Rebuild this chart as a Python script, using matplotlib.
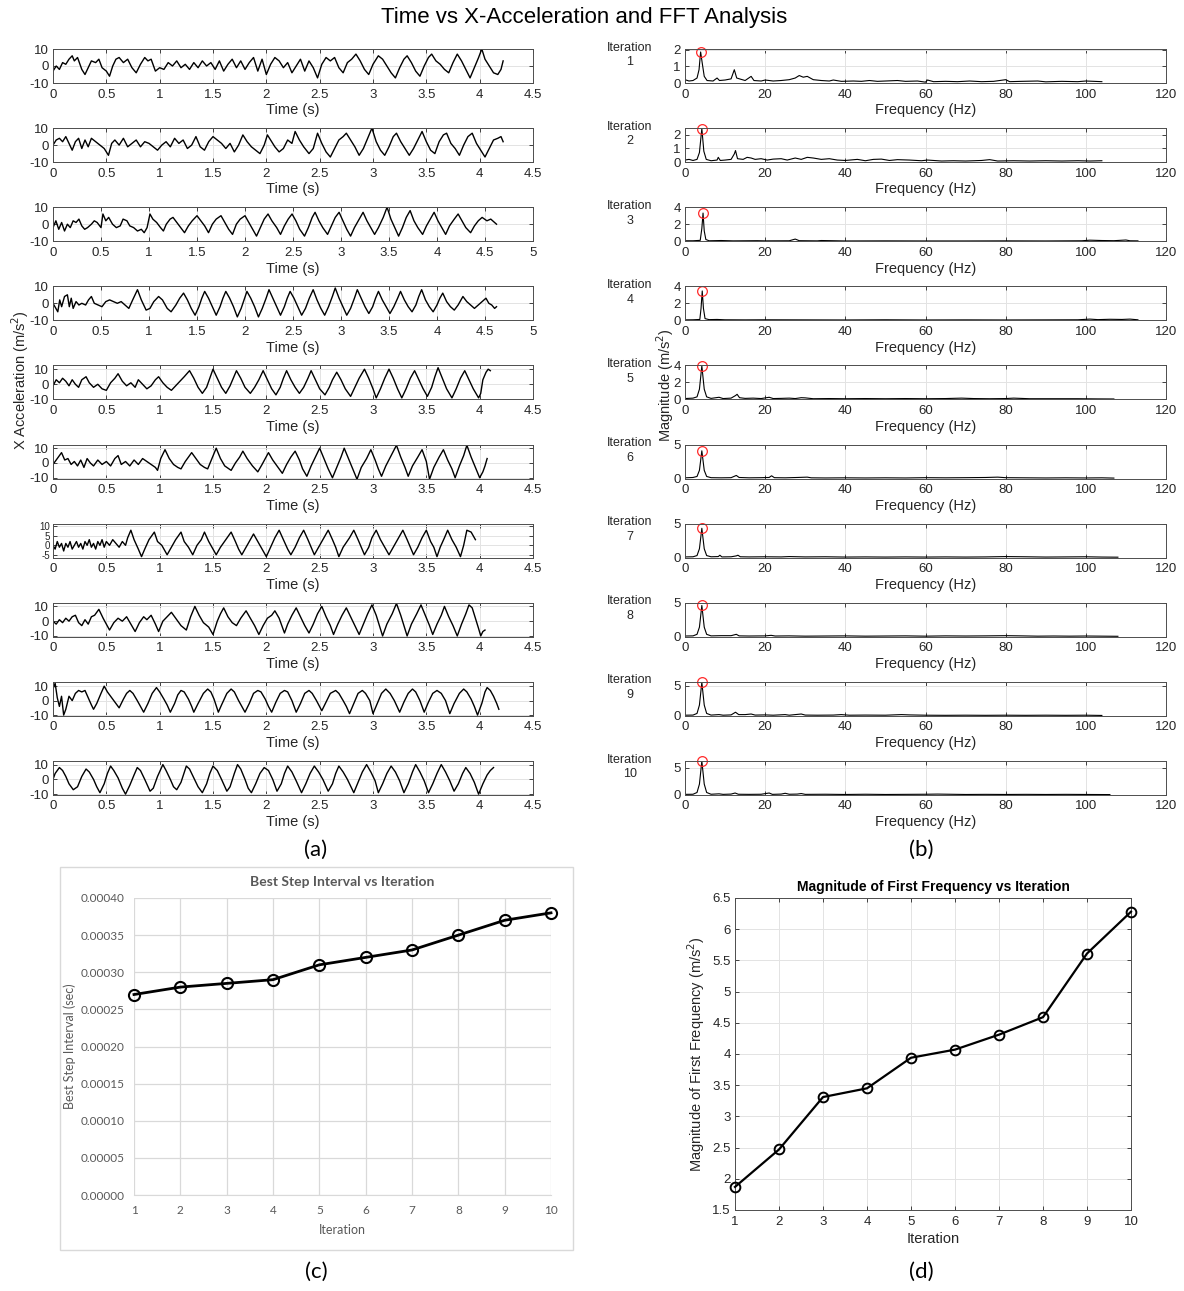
import matplotlib
matplotlib.use("Agg")
import matplotlib.pyplot as plt
from matplotlib.ticker import FuncFormatter
import numpy as np

# ---------------- DATA ----------------
iterations = [1, 2, 3, 4, 5, 6, 7, 8, 9, 10]
best_step_interval = [0.00027, 0.00028, 0.000285, 0.00029, 0.00031, 0.00032, 0.00033, 0.00035, 0.00037, 0.00038]
first_freq_magnitude = [1.87, 2.47, 3.31, 3.45, 3.94, 4.07, 4.31, 4.59, 5.61, 6.28]
peak_freq = [3.9, 4.2, 4.5, 4.3, 4.2, 4.2, 4.2, 4.2, 4.2, 4.2]

# time-domain x-acceleration (t [s], a [m/s^2])
acc_1 = [(0,-3),(0.03,0),(0.06,-2),(0.09,2),(0.12,1),(0.15,4),(0.18,6),(0.20,3),(0.23,5),(0.27,-2),(0.30,-5),(0.33,-1),(0.36,3),(0.40,2),(0.43,4),(0.46,-1),(0.50,-3),(0.53,-6),(0.56,0),(0.59,4),(0.62,5),(0.66,2),(0.70,4),(0.74,-1),(0.78,-4),(0.82,1),(0.86,5),(0.89,3),(0.92,4),(0.96,-3),(1.00,-1),(1.04,-2),(1.08,2),(1.12,0),(1.16,3),(1.20,-1),(1.24,1),(1.28,-2),(1.32,2),(1.36,-1),(1.40,3),(1.44,0),(1.48,2),(1.52,-2),(1.56,3),(1.60,-3),(1.64,1),(1.68,4),(1.72,-1),(1.76,3),(1.80,-2),(1.84,2),(1.88,5),(1.92,-3),(1.96,4),(2.00,-5),(2.04,1),(2.08,5),(2.12,3),(2.16,-1),(2.20,2),(2.24,-4),(2.28,0),(2.32,4),(2.36,-3),(2.40,3),(2.44,-1),(2.48,-7),(2.52,1),(2.56,5),(2.60,3),(2.64,5),(2.68,-1),(2.72,-4),(2.76,2),(2.80,4),(2.84,7),(2.88,3),(2.92,-2),(2.96,-5),(3.00,1),(3.05,6),(3.09,4),(3.13,0),(3.17,-4),(3.21,-7),(3.25,-1),(3.29,4),(3.32,6),(3.36,2),(3.40,-3),(3.44,-6),(3.48,0),(3.52,5),(3.55,7),(3.59,3),(3.63,1),(3.67,-2),(3.71,-4),(3.75,2),(3.79,7),(3.83,3),(3.87,-2),(3.91,-7),(3.95,-1),(3.99,5),(4.02,10),(4.05,4),(4.09,0),(4.13,-4),(4.17,-5),(4.20,-2),(4.22,3)]
acc_2 = [(0,0),(0.03,3),(0.06,4),(0.09,2),(0.12,5),(0.15,1),(0.18,-3),(0.21,2),(0.24,4),(0.27,-2),(0.30,3),(0.33,-1),(0.36,4),(0.40,2),(0.44,0),(0.48,-2),(0.52,-6),(0.55,1),(0.58,3),(0.62,0),(0.66,4),(0.70,-1),(0.74,1),(0.78,3),(0.82,-1),(0.86,2),(0.90,1),(0.94,-1),(0.98,-3),(1.02,0),(1.06,2),(1.10,-1),(1.14,4),(1.18,1),(1.22,3),(1.26,-2),(1.30,0),(1.34,5),(1.38,-1),(1.42,-3),(1.46,2),(1.50,5),(1.54,3),(1.58,1),(1.62,-2),(1.66,1),(1.70,-4),(1.74,0),(1.78,6),(1.82,2),(1.86,-1),(1.90,-3),(1.94,-5),(1.98,0),(2.01,6),(2.04,3),(2.08,-1),(2.12,-4),(2.16,-2),(2.20,3),(2.24,1),(2.27,8),(2.31,3),(2.35,-1),(2.40,-5),(2.44,-2),(2.48,7),(2.52,1),(2.56,-4),(2.60,-7),(2.64,-2),(2.68,3),(2.72,5),(2.75,7),(2.79,3),(2.83,-1),(2.87,-6),(2.91,-2),(2.95,4),(2.99,10),(3.03,2),(3.07,-3),(3.11,-6),(3.15,-1),(3.19,5),(3.22,7),(3.26,2),(3.30,-2),(3.34,-6),(3.38,-2),(3.42,3),(3.46,8),(3.50,2),(3.54,-3),(3.58,-5),(3.62,2),(3.66,6),(3.69,7),(3.73,1),(3.77,-2),(3.81,-6),(3.85,0),(3.89,5),(3.93,7),(3.97,1),(4.01,-3),(4.05,-7),(4.09,-2),(4.13,3),(4.17,4),(4.20,5),(4.22,2)]
acc_3 = [(0,-2),(0.03,2),(0.06,-3),(0.09,1),(0.12,-4),(0.15,0),(0.18,-2),(0.21,2),(0.24,1),(0.27,3),(0.30,-1),(0.33,-3),(0.36,-2),(0.40,0),(0.43,2),(0.46,1),(0.50,-2),(0.52,6),(0.55,2),(0.58,4),(0.62,0),(0.66,-2),(0.70,-1),(0.73,3),(0.77,2),(0.80,-1),(0.84,-2),(0.88,-4),(0.92,-3),(0.95,-5),(0.98,-2),(1.01,6),(1.04,3),(1.08,1),(1.12,-2),(1.15,-4),(1.18,0),(1.22,3),(1.25,4),(1.29,1),(1.33,-2),(1.37,-5),(1.41,-1),(1.45,2),(1.50,5),(1.54,2),(1.58,-1),(1.62,-5),(1.66,0),(1.70,3),(1.75,5),(1.79,1),(1.83,-3),(1.87,-6),(1.91,0),(1.95,3),(2.00,5),(2.04,1),(2.08,-3),(2.12,-7),(2.16,-2),(2.20,3),(2.24,6),(2.28,2),(2.33,-2),(2.37,-6),(2.41,-1),(2.45,3),(2.49,6),(2.53,2),(2.57,-3),(2.62,-7),(2.66,-2),(2.70,4),(2.73,7),(2.77,2),(2.81,-2),(2.86,-6),(2.90,-1),(2.94,4),(2.98,7),(3.02,2),(3.06,-3),(3.10,-7),(3.14,-2),(3.19,3),(3.23,7),(3.27,2),(3.31,-2),(3.35,-6),(3.39,-2),(3.44,4),(3.48,10),(3.52,3),(3.56,-2),(3.60,-7),(3.64,-2),(3.68,4),(3.72,8),(3.76,2),(3.80,-2),(3.85,-6),(3.89,-1),(3.93,3),(3.97,7),(4.01,2),(4.05,-2),(4.09,-6),(4.13,-1),(4.18,3),(4.22,6),(4.26,2),(4.30,-2),(4.35,-5),(4.39,-1),(4.43,2),(4.47,4),(4.52,2),(4.56,3),(4.60,1),(4.62,0)]
acc_4 = [(0,0),(0.03,-3),(0.05,-5),(0.07,2),(0.09,-2),(0.12,4),(0.15,5),(0.17,-2),(0.19,3),(0.21,-3),(0.24,1),(0.27,-1),(0.30,0),(0.34,-1),(0.37,2),(0.40,4),(0.43,0),(0.47,-1),(0.51,-2),(0.55,1),(0.59,2),(0.63,1),(0.67,0),(0.71,1),(0.75,-1),(0.79,-3),(0.83,2),(0.88,8),(0.92,2),(0.97,-4),(1.01,-3),(1.05,1),(1.10,4),(1.14,2),(1.19,-3),(1.23,-5),(1.28,-1),(1.32,3),(1.36,6),(1.40,2),(1.44,-3),(1.48,-7),(1.52,-2),(1.55,3),(1.58,7),(1.62,3),(1.66,-2),(1.70,-7),(1.74,-2),(1.77,3),(1.80,7),(1.84,3),(1.88,-2),(1.92,-8),(1.96,-3),(1.99,2),(2.02,7),(2.06,3),(2.10,-2),(2.14,-8),(2.18,-3),(2.22,3),(2.25,8),(2.29,3),(2.33,-2),(2.37,-7),(2.41,-2),(2.44,3),(2.47,7),(2.51,3),(2.55,-2),(2.59,-7),(2.63,-3),(2.67,3),(2.71,8),(2.75,2),(2.79,-3),(2.83,-7),(2.87,-2),(2.91,4),(2.94,9),(2.98,3),(3.02,-2),(3.06,-7),(3.10,-3),(3.14,3),(3.17,8),(3.21,3),(3.25,-2),(3.29,-6),(3.33,-2),(3.36,3),(3.39,7),(3.43,2),(3.47,-2),(3.51,-6),(3.55,-2),(3.59,3),(3.62,7),(3.66,2),(3.70,-2),(3.74,-5),(3.78,-1),(3.81,4),(3.84,8),(3.88,2),(3.92,-2),(3.96,-5),(4.00,-1),(4.03,3),(4.06,6),(4.10,1),(4.14,-2),(4.18,-4),(4.22,-1),(4.25,2),(4.27,4),(4.31,1),(4.35,-1),(4.39,-3),(4.43,-1),(4.47,1),(4.51,3),(4.54,0),(4.57,-1),(4.60,-3),(4.62,-2)]
acc_5 = [(0,-1),(0.03,3),(0.06,1),(0.09,4),(0.12,2),(0.15,-1),(0.18,3),(0.21,0),(0.24,-2),(0.27,3),(0.31,5),(0.34,1),(0.38,-2),(0.42,0),(0.46,-3),(0.50,-4),(0.54,1),(0.58,4),(0.61,7),(0.65,2),(0.69,-1),(0.73,1),(0.77,-2),(0.80,3),(0.84,0),(0.88,-3),(0.92,-1),(0.96,3),(0.99,5),(1.03,1),(1.07,-2),(1.11,-4),(1.15,-1),(1.19,2),(1.23,5),(1.28,9),(1.32,4),(1.36,-2),(1.40,-6),(1.44,-2),(1.47,4),(1.50,10),(1.54,4),(1.58,-2),(1.62,-6),(1.66,-1),(1.69,4),(1.72,9),(1.76,4),(1.80,-2),(1.85,-6),(1.89,-2),(1.93,3),(1.97,9),(2.01,3),(2.05,-3),(2.09,-7),(2.13,-2),(2.16,4),(2.19,9),(2.23,3),(2.27,-2),(2.31,-6),(2.35,-2),(2.39,4),(2.42,9),(2.46,3),(2.50,-3),(2.55,-7),(2.59,-2),(2.62,3),(2.66,8),(2.70,3),(2.74,-3),(2.79,-8),(2.83,-2),(2.87,4),(2.92,10),(2.96,4),(3.00,-3),(3.03,-9),(3.07,-3),(3.11,4),(3.15,10),(3.19,4),(3.23,-3),(3.27,-9),(3.31,-3),(3.35,4),(3.39,9),(3.43,3),(3.47,-3),(3.51,-8),(3.55,-2),(3.58,5),(3.61,11),(3.65,4),(3.69,-3),(3.74,-9),(3.78,-3),(3.82,4),(3.86,9),(3.90,3),(3.94,-3),(3.99,-9),(4.01,-6),(4.03,3),(4.06,8),(4.08,10),(4.10,9)]
acc_6 = [(0,-1),(0.03,2),(0.06,5),(0.08,7),(0.11,2),(0.14,3),(0.17,-1),(0.20,1),(0.23,-2),(0.26,2),(0.29,-3),(0.32,3),(0.35,0),(0.38,-2),(0.42,2),(0.46,-1),(0.50,1),(0.54,-2),(0.58,3),(0.61,5),(0.64,-1),(0.68,1),(0.72,-2),(0.76,2),(0.80,-1),(0.84,3),(0.88,1),(0.92,-1),(0.96,-3),(0.98,-5),(1.01,3),(1.05,9),(1.09,3),(1.13,-1),(1.17,-3),(1.20,-4),(1.24,1),(1.30,7),(1.34,3),(1.38,-1),(1.42,-3),(1.45,-4),(1.49,3),(1.53,10),(1.57,3),(1.61,-2),(1.67,-5),(1.71,0),(1.75,4),(1.78,8),(1.82,3),(1.87,-2),(1.92,-6),(1.96,-1),(1.99,3),(2.02,7),(2.06,2),(2.11,-3),(2.15,-7),(2.19,-1),(2.23,4),(2.27,8),(2.31,2),(2.34,-4),(2.38,-9),(2.42,-2),(2.46,4),(2.50,10),(2.54,3),(2.58,-4),(2.62,-10),(2.66,-3),(2.70,4),(2.73,10),(2.77,3),(2.81,-4),(2.85,-11),(2.89,-3),(2.94,3),(2.98,9),(3.02,2),(3.05,-4),(3.08,-9),(3.12,-2),(3.17,5),(3.22,12),(3.26,4),(3.30,-3),(3.33,-9),(3.37,-2),(3.42,4),(3.46,9),(3.50,1),(3.53,-11),(3.57,-3),(3.62,4),(3.66,9),(3.70,2),(3.74,-4),(3.77,-10),(3.81,-2),(3.85,5),(3.88,12),(3.92,4),(3.96,-3),(4.00,-10),(4.03,-6),(4.05,-2),(4.07,3)]
acc_7 = [(0,0),(0.02,-2),(0.04,2),(0.06,-1),(0.08,1),(0.10,-3),(0.12,1),(0.14,-1),(0.16,2),(0.18,-2),(0.20,0),(0.22,2),(0.24,-1),(0.26,1),(0.28,-2),(0.30,2),(0.32,0),(0.34,3),(0.36,-1),(0.38,1),(0.40,-2),(0.42,2),(0.44,0),(0.46,3),(0.48,-1),(0.50,2),(0.53,0),(0.56,3),(0.59,1),(0.62,-1),(0.65,2),(0.68,0),(0.70,4),(0.73,8),(0.76,3),(0.80,-2),(0.83,-6),(0.86,-2),(0.90,3),(0.95,7),(0.98,2),(1.02,0),(1.07,-5),(1.11,-1),(1.15,3),(1.20,7),(1.23,2),(1.27,-1),(1.31,-5),(1.35,0),(1.39,3),(1.42,7),(1.46,2),(1.50,-2),(1.53,-5),(1.57,-1),(1.62,3),(1.67,7),(1.71,2),(1.74,-2),(1.77,-5),(1.81,-1),(1.85,3),(1.88,6),(1.92,2),(1.96,-2),(2.00,-6),(2.04,-1),(2.08,4),(2.12,8),(2.16,3),(2.20,-2),(2.23,-5),(2.27,-1),(2.31,4),(2.35,8),(2.39,3),(2.42,-1),(2.45,-5),(2.49,-1),(2.54,4),(2.58,8),(2.62,3),(2.65,-1),(2.68,-6),(2.72,-1),(2.78,4),(2.82,8),(2.86,3),(2.89,-1),(2.92,-5),(2.96,-1),(2.99,4),(3.03,8),(3.07,3),(3.11,-1),(3.15,-5),(3.19,-1),(3.24,4),(3.28,8),(3.32,3),(3.35,-1),(3.38,-5),(3.42,-1),(3.46,4),(3.50,8),(3.54,2),(3.57,-1),(3.60,-6),(3.63,-1),(3.67,4),(3.70,8),(3.74,3),(3.78,-1),(3.82,-6),(3.85,0),(3.88,8),(3.92,7),(3.96,3)]
acc_8 = [(0,0),(0.03,-2),(0.06,1),(0.09,-1),(0.12,2),(0.15,0),(0.18,3),(0.21,4),(0.24,-1),(0.27,-3),(0.30,1),(0.33,-2),(0.36,3),(0.39,4),(0.43,8),(0.47,2),(0.50,-2),(0.53,-6),(0.57,-1),(0.61,2),(0.65,0),(0.69,3),(0.73,-2),(0.77,-7),(0.81,-1),(0.85,3),(0.88,1),(0.92,4),(0.96,-2),(0.99,-7),(1.03,0),(1.07,3),(1.11,6),(1.15,2),(1.20,-3),(1.25,-6),(1.29,3),(1.33,10),(1.37,4),(1.41,-1),(1.46,-4),(1.50,-9),(1.54,0),(1.57,5),(1.60,9),(1.64,3),(1.68,-1),(1.72,-3),(1.76,2),(1.81,7),(1.85,2),(1.89,-3),(1.93,-9),(1.97,-3),(2.01,2),(2.05,4),(2.08,7),(2.12,2),(2.17,-8),(2.20,-2),(2.24,4),(2.28,9),(2.32,3),(2.36,-3),(2.40,-8),(2.44,-2),(2.48,5),(2.52,10),(2.56,3),(2.60,-3),(2.63,-9),(2.67,-2),(2.71,4),(2.75,9),(2.79,3),(2.83,-3),(2.87,-9),(2.91,-2),(2.95,5),(2.99,11),(3.03,4),(3.06,-3),(3.09,-10),(3.13,-2),(3.18,5),(3.22,12),(3.26,4),(3.29,-3),(3.32,-10),(3.36,-2),(3.41,5),(3.45,11),(3.49,4),(3.53,-3),(3.56,-9),(3.60,-2),(3.64,4),(3.67,10),(3.71,3),(3.75,-3),(3.79,-10),(3.83,-2),(3.87,5),(3.90,11),(3.93,9),(3.96,2),(3.99,-5),(4.01,-10),(4.03,-7),(4.05,-6)]
acc_9 = [(0,8),(0.02,12),(0.04,2),(0.06,-4),(0.08,3),(0.10,-10),(0.12,-6),(0.15,3),(0.18,0),(0.21,5),(0.24,7),(0.27,6),(0.30,7),(0.33,2),(0.36,-3),(0.38,-6),(0.41,-2),(0.45,5),(0.48,10),(0.51,6),(0.55,2),(0.59,-2),(0.62,-5),(0.66,1),(0.69,5),(0.72,7),(0.75,5),(0.79,0),(0.82,-4),(0.85,-8),(0.89,-2),(0.93,5),(0.97,9),(1.00,6),(1.04,1),(1.07,-3),(1.10,-8),(1.14,-2),(1.17,4),(1.20,7),(1.23,6),(1.27,1),(1.30,-4),(1.32,-8),(1.36,-2),(1.41,5),(1.45,8),(1.48,6),(1.51,1),(1.55,-8),(1.58,-3),(1.63,5),(1.67,8),(1.70,6),(1.74,0),(1.77,-4),(1.80,-8),(1.84,-2),(1.88,5),(1.92,7),(1.95,6),(1.99,1),(2.02,-4),(2.05,-8),(2.09,-1),(2.13,5),(2.17,7),(2.20,6),(2.24,0),(2.28,-8),(2.32,-2),(2.36,5),(2.40,7),(2.43,5),(2.47,0),(2.52,-7),(2.56,-1),(2.60,5),(2.65,7),(2.68,5),(2.72,0),(2.75,-4),(2.78,-9),(2.82,-2),(2.86,5),(2.90,7),(2.93,5),(2.97,0),(3.00,-9),(3.04,-2),(3.08,5),(3.12,8),(3.16,5),(3.20,0),(3.25,-8),(3.29,-1),(3.33,5),(3.37,8),(3.40,6),(3.44,0),(3.48,-8),(3.52,-1),(3.56,5),(3.60,7),(3.64,5),(3.68,0),(3.72,-9),(3.76,-2),(3.81,5),(3.85,8),(3.88,6),(3.92,1),(3.95,-4),(3.98,-10),(4.02,-2),(4.05,6),(4.07,9),(4.10,7),(4.13,3),(4.16,-2),(4.18,-6)]
acc_10 = [(0,0),(0.02,4),(0.04,6),(0.06,8),(0.09,6),(0.12,2),(0.15,-3),(0.19,-7),(0.23,-5),(0.27,2),(0.31,7),(0.34,5),(0.38,0),(0.41,-5),(0.44,-9),(0.48,-3),(0.51,4),(0.54,9),(0.57,6),(0.61,1),(0.65,-6),(0.68,-10),(0.72,-4),(0.76,3),(0.79,8),(0.82,6),(0.86,0),(0.91,-8),(0.94,-6),(0.98,2),(1.03,10),(1.06,6),(1.10,0),(1.13,-5),(1.16,-7),(1.20,-2),(1.25,9),(1.28,7),(1.32,1),(1.36,-5),(1.40,-9),(1.44,-3),(1.47,4),(1.50,9),(1.54,6),(1.58,0),(1.63,-8),(1.66,-5),(1.70,4),(1.73,10),(1.76,7),(1.80,0),(1.83,-6),(1.86,-9),(1.90,-3),(1.94,4),(1.98,8),(2.02,6),(2.06,0),(2.10,-8),(2.14,-3),(2.17,4),(2.20,9),(2.24,5),(2.28,-1),(2.33,-9),(2.37,-3),(2.41,4),(2.45,9),(2.49,5),(2.53,0),(2.58,-8),(2.62,-3),(2.65,4),(2.68,9),(2.72,5),(2.76,0),(2.82,-9),(2.86,-2),(2.90,5),(2.94,10),(2.98,5),(3.02,-1),(3.05,-9),(3.09,-3),(3.13,4),(3.17,9),(3.21,5),(3.25,-1),(3.29,-9),(3.33,-3),(3.37,5),(3.40,10),(3.44,5),(3.48,-1),(3.52,-9),(3.56,-3),(3.60,4),(3.64,10),(3.68,5),(3.72,-1),(3.76,-8),(3.80,-3),(3.84,4),(3.87,8),(3.91,4),(3.95,-2),(3.99,-10),(4.03,-3),(4.07,3),(4.10,6),(4.13,8)]

# FFT magnitude spectra (f [Hz], |A| [m/s^2])
fft_1 = [(0,0.2),(1,0.12),(2,0.15),(3,0.3),(3.5,0.8),(3.9,1.87),(4.3,1.2),(4.8,0.4),(5.5,0.15),(7,0.12),(8,0.3),(8.6,0.15),(10,0.18),(11.5,0.25),(12.3,0.8),(12.9,0.3),(14,0.22),(15,0.15),(16.5,0.4),(17.2,0.15),(19,0.12),(20,0.18),(22,0.12),(24,0.15),(26,0.2),(27.5,0.3),(28.5,0.45),(29.5,0.35),(30.5,0.4),(32,0.2),(34,0.15),(36,0.12),(37,0.18),(39,0.1),(42,0.12),(44,0.1),(46,0.15),(48,0.1),(50,0.12),(53,0.15),(55,0.1),(58,0.12),(60,0.05),(60.5,0.18),(62,0.08),(65,0.1),(68,0.08),(71,0.12),(74,0.08),(77,0.1),(80,0.2),(81,0.08),(84,0.1),(88,0.12),(90,0.07),(94,0.1),(98,0.08),(100,0.12),(104,0.08)]
fft_2 = [(0,0.15),(1,0.2),(2,0.12),(3,0.2),(3.6,0.7),(4.2,2.47),(4.7,0.8),(5.3,0.2),(6.5,0.1),(8,0.15),(8.3,0.35),(8.8,0.12),(10,0.15),(11.5,0.2),(12.3,0.6),(12.6,0.85),(13.1,0.25),(14.5,0.2),(15.5,0.35),(16.5,0.3),(17.5,0.2),(19,0.25),(20.5,0.15),(22,0.22),(24,0.25),(25.5,0.15),(27.5,0.3),(29,0.2),(30.5,0.35),(32,0.3),(34,0.2),(36,0.25),(38,0.15),(40,0.12),(43,0.2),(45,0.1),(47,0.2),(49,0.22),(51,0.12),(53,0.18),(56,0.15),(59,0.1),(60.5,0.15),(64,0.08),(67,0.1),(70,0.08),(74,0.12),(76,0.18),(78,0.08),(82,0.1),(86,0.08),(90,0.1),(94,0.08),(98,0.1),(101,0.08),(104,0.1)]
fft_3 = [(0,0.05),(2,0.05),(3.8,0.1),(4.2,1.5),(4.5,3.31),(4.8,1.2),(5.2,0.2),(6,0.05),(9,0.08),(12,0.04),(18,0.06),(20,0.04),(26,0.05),(27.5,0.25),(28.5,0.06),(33,0.04),(34,0.08),(40,0.03),(50,0.04),(60,0.03),(70,0.03),(80,0.04),(90,0.03),(99,0.05),(101,0.12),(104,0.08),(107,0.06),(110,0.14),(111,0.05),(113,0.04)]
fft_4 = [(0,0.05),(2,0.06),(3.7,0.1),(4.0,1.4),(4.3,3.45),(4.6,1.4),(5.0,0.2),(6,0.08),(8,0.1),(10,0.06),(15,0.05),(20,0.06),(30,0.05),(40,0.04),(50,0.06),(60,0.04),(70,0.05),(80,0.04),(90,0.05),(98,0.06),(101,0.14),(103,0.08),(106,0.12),(109,0.1),(111,0.14),(113,0.06)]
fft_5 = [(0,0.1),(2,0.15),(3,0.3),(3.6,1.2),(4.2,3.94),(4.8,1.2),(5.4,0.3),(6.5,0.12),(8.5,0.25),(9.5,0.1),(11.5,0.15),(12.6,0.45),(13,0.6),(13.6,0.2),(15,0.12),(17,0.15),(19,0.1),(21,0.25),(22,0.1),(24,0.12),(26,0.15),(27.5,0.1),(29,0.2),(30,0.18),(32,0.08),(36,0.1),(40,0.08),(45,0.1),(50,0.08),(55,0.1),(60,0.08),(65,0.1),(69,0.15),(72,0.1),(76,0.08),(80,0.1),(82,0.15),(86,0.08),(92,0.08),(98,0.08),(103,0.06),(107,0.05)]
fft_6 = [(0,0.1),(2,0.15),(3,0.3),(3.6,1.2),(4.2,4.07),(4.8,1.2),(5.4,0.3),(6.5,0.12),(9,0.1),(11.5,0.12),(12.8,0.45),(13.5,0.15),(16,0.1),(19,0.12),(21,0.15),(21.6,0.4),(22.3,0.12),(25,0.1),(28,0.15),(30.5,0.2),(31.5,0.1),(35,0.08),(40,0.1),(45,0.08),(50,0.1),(55,0.08),(60,0.12),(65,0.1),(70,0.12),(75,0.15),(78,0.2),(80,0.12),(85,0.1),(90,0.08),(95,0.1),(100,0.08),(104,0.1),(107,0.06)]
fft_7 = [(0,0.1),(2,0.12),(3,0.3),(3.6,1.3),(4.2,4.31),(4.8,1.3),(5.4,0.3),(6.5,0.12),(8.3,0.15),(8.7,0.35),(9.2,0.1),(11.5,0.12),(12.8,0.25),(13.2,0.35),(13.8,0.12),(16,0.1),(20,0.12),(24,0.1),(26,0.15),(30,0.1),(35,0.12),(40,0.08),(45,0.1),(50,0.08),(55,0.1),(60,0.08),(65,0.1),(70,0.08),(75,0.1),(80,0.15),(85,0.12),(90,0.08),(95,0.1),(100,0.12),(104,0.08),(108,0.06)]
fft_8 = [(0,0.1),(2,0.12),(3,0.35),(3.6,1.4),(4.2,4.59),(4.8,1.4),(5.4,0.35),(6.5,0.12),(9,0.15),(11.5,0.15),(12.8,0.35),(13.5,0.12),(16,0.1),(20,0.12),(21.5,0.2),(22.5,0.1),(26,0.12),(30,0.08),(35,0.1),(40,0.12),(45,0.08),(50,0.1),(55,0.12),(60,0.08),(65,0.12),(70,0.1),(75,0.12),(80,0.15),(84,0.12),(88,0.08),(92,0.1),(96,0.08),(100,0.1),(104,0.08),(108,0.06)]
fft_9 = [(0,0.1),(2,0.12),(3,0.4),(3.6,1.8),(4.2,5.61),(4.8,1.8),(5.4,0.4),(6.5,0.12),(8.5,0.2),(9.5,0.1),(11.5,0.15),(12.6,0.6),(13.4,0.2),(15,0.2),(16.5,0.3),(17.5,0.12),(20,0.15),(22,0.1),(25,0.2),(26,0.1),(29,0.3),(30,0.12),(33,0.1),(37,0.12),(39,0.2),(41,0.1),(45,0.12),(50,0.1),(54,0.2),(56,0.15),(60,0.1),(65,0.08),(70,0.1),(75,0.08),(80,0.1),(85,0.08),(90,0.1),(95,0.08),(100,0.1),(104,0.06)]
fft_10 = [(0,0.1),(2,0.12),(3,0.45),(3.6,2.0),(4.2,6.28),(4.8,2.0),(5.4,0.45),(6.5,0.12),(8.5,0.2),(9.5,0.1),(11.5,0.15),(12.5,0.35),(13.3,0.12),(16,0.1),(19,0.12),(21,0.35),(21.8,0.1),(24,0.15),(25,0.3),(26,0.12),(28,0.15),(29,0.25),(30,0.1),(35,0.12),(40,0.08),(45,0.12),(50,0.08),(55,0.1),(60,0.12),(63,0.15),(66,0.12),(70,0.08),(75,0.1),(80,0.08),(85,0.1),(90,0.08),(95,0.1),(100,0.08),(106,0.06)]

acc_series = [acc_1, acc_2, acc_3, acc_4, acc_5, acc_6, acc_7, acc_8, acc_9, acc_10]
fft_series = [fft_1, fft_2, fft_3, fft_4, fft_5, fft_6, fft_7, fft_8, fft_9, fft_10]

time_xmax = [4.5, 4.5, 5, 5, 4.5, 4.5, 4.5, 4.5, 4.5, 4.5]
time_ylim = [(-10, 10), (-10, 10), (-10, 10), (-10, 10), (-10, 12.5), (-10.5, 12.5),
             (-6.5, 11.5), (-10.5, 12.5), (-10.5, 13), (-10.5, 12.5)]
time_yticks = [[-10, 0, 10]] * 6 + [[-5, 0, 5, 10]] + [[-10, 0, 10]] * 3
fft_ylim = [2.05, 2.5, 4, 4, 4, 5, 5, 5, 5.7, 6.3]
fft_yticks = [[0, 1, 2], [0, 1, 2], [0, 2, 4], [0, 2, 4], [0, 2, 4],
              [0, 5], [0, 5], [0, 5], [0, 5], [0, 5]]

# ---------------- FIGURE ----------------
W, H = 1184, 1291
fig = plt.figure(figsize=(W / 100, H / 100), dpi=100)
MFONT = ["Liberation Sans", "DejaVu Sans"]
EFONT = ["Lato", "DejaVu Sans"]
plt.rcParams["font.family"] = MFONT

def px_axes(x0, y0, x1, y1):
    return fig.add_axes([x0 / W, 1 - y1 / H, (x1 - x0) / W, (y1 - y0) / H])

gfmt = FuncFormatter(lambda v, p: f"{v:g}")
TXT = "#262626"
GRID = "#e3e3e3"

def matlab_style(ax, fs=9):
    ax.grid(True, color=GRID, linewidth=0.7)
    ax.set_axisbelow(True)
    for s in ax.spines.values():
        s.set_color("#4d4d4d")
        s.set_linewidth(0.7)
    ax.tick_params(direction="in", length=3, width=0.6, top=True, right=True,
                   labelsize=fs, colors=TXT, pad=3)
    ax.tick_params(axis="x", pad=4)
    ax.xaxis.set_major_formatter(gfmt)
    ax.yaxis.set_major_formatter(gfmt)

fig.text(584 / W, 1 - 18 / H, "Time vs X-Acceleration and FFT Analysis",
         ha="center", va="center", fontsize=16, color="black")

top0, step, ph = 49, 79.1, 34
for i in range(10):
    y0 = top0 + step * i
    # time domain
    ax = px_axes(53, y0, 533, y0 + ph)
    t = [p[0] for p in acc_series[i]]
    a = [p[1] for p in acc_series[i]]
    ax.plot(t, a, color="black", linewidth=1.0)
    ax.set_xlim(0, time_xmax[i])
    ax.set_xticks(np.arange(0, time_xmax[i] + 0.01, 0.5))
    ax.set_ylim(*time_ylim[i])
    ax.set_yticks(time_yticks[i])
    matlab_style(ax, 9.5)
    if len(time_yticks[i]) > 3:
        ax.tick_params(axis="y", labelsize=7, pad=2)
    ax.set_xlabel("Time (s)", fontsize=10.5, color=TXT, labelpad=2)

    # frequency domain
    axf = px_axes(685, y0, 1166, y0 + ph)
    f = [p[0] for p in fft_series[i]]
    m = [p[1] for p in fft_series[i]]
    axf.plot(f, m, color="black", linewidth=0.8)
    axf.plot([peak_freq[i]], [first_freq_magnitude[i]], "o", mfc="none",
             mec="#ff2a2a", ms=7, mew=0.9, clip_on=False)
    axf.set_xlim(0, 120)
    axf.set_xticks(range(0, 121, 20))
    axf.set_ylim(0, fft_ylim[i])
    axf.set_yticks(fft_yticks[i])
    matlab_style(axf, 9.5)
    axf.set_xlabel("Frequency (Hz)", fontsize=10.5, color=TXT, labelpad=2)
    fig.text(630 / W, 1 - (y0 + 6) / H, f"Iteration\n{iterations[i]}", ha="center",
             va="center", fontsize=9, color=TXT, linespacing=1.3)

fig.text(20 / W, 1 - 380 / H, "X Acceleration (m/s$^2$)", rotation=90,
         ha="center", va="center", fontsize=10.5, color=TXT)
fig.text(665 / W, 1 - 385 / H, "Magnitude (m/s$^2$)", rotation=90,
         ha="center", va="center", fontsize=10.5, color=TXT)

# panel labels
for lbl, x, y in [("(a)", 316, 850), ("(b)", 921, 850), ("(c)", 316, 1272), ("(d)", 921, 1272)]:
    fig.text(x / W, 1 - y / H, lbl, ha="center", va="center", fontsize=16,
             family=EFONT, color="black")

# ---------------- (c) Excel-style chart ----------------
EX = "#595959"
frame = plt.Rectangle((60 / W, 1 - 1250 / H), (573 - 60) / W, (1250 - 867) / H,
                      transform=fig.transFigure, fill=False, edgecolor="#d9d9d9", linewidth=1)
fig.add_artist(frame)
axc = px_axes(134, 898, 551, 1195)
axc.plot(iterations, best_step_interval, color="black", linewidth=2, marker="o",
         mfc="none", mec="black", ms=8, mew=1.5, clip_on=False, zorder=3)
axc.set_xlim(1, 10)
axc.set_ylim(0, 0.0004)
axc.set_yticks(np.arange(0, 0.00041, 0.00005))
axc.yaxis.set_major_formatter(FuncFormatter(lambda v, p: f"{v:.5f}"))
axc.set_xticks(iterations)
axc.grid(True, color="#d9d9d9", linewidth=0.9)
axc.set_axisbelow(True)
for s in ["top", "right", "left"]:
    axc.spines[s].set_visible(False)
axc.spines["bottom"].set_color("#d9d9d9")
axc.tick_params(length=0, labelsize=8.5, colors=EX, pad=7)
for lab in axc.get_xticklabels() + axc.get_yticklabels():
    lab.set_family(EFONT)
axc.set_title("Best Step Interval vs Iteration", fontsize=10, color=EX,
              fontweight="bold", family=EFONT, pad=9)
axc.set_xlabel("Iteration", fontsize=9, color=EX, family=EFONT, labelpad=6)
axc.set_ylabel("Best Step Interval (sec)", fontsize=9, color=EX, family=EFONT, labelpad=3)

# ---------------- (d) MATLAB-style chart ----------------
axd = px_axes(735, 898, 1131, 1210)
axd.plot(iterations, first_freq_magnitude, color="black", linewidth=1.6, marker="o",
         mfc="none", mec="black", ms=7, mew=1.4, clip_on=False, zorder=3)
axd.set_xlim(1, 10)
axd.set_ylim(1.5, 6.5)
axd.set_xticks(iterations)
axd.set_yticks(np.arange(1.5, 6.51, 0.5))
matlab_style(axd, 9.5)
axd.set_title("Magnitude of First Frequency vs Iteration", fontsize=10,
              fontweight="bold", color="black", pad=5)
axd.set_xlabel("Iteration", fontsize=10.5, color=TXT, labelpad=3)
axd.set_ylabel("Magnitude of First Frequency (m/s$^2$)", fontsize=10.5, color=TXT, labelpad=4)

fig.savefig("out.png", dpi=100, facecolor="white")
